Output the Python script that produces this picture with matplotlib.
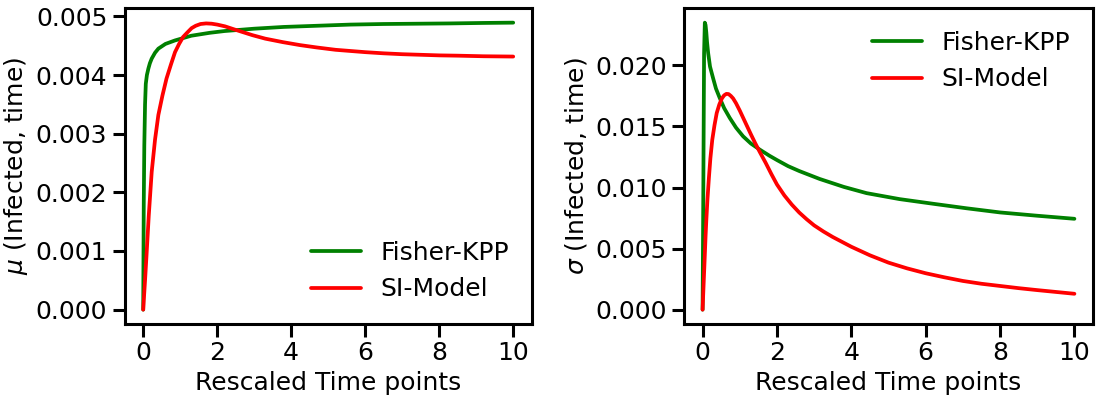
import numpy as np
import matplotlib
matplotlib.use("Agg")
import matplotlib.pyplot as plt
import seaborn as sns

# values (units of 1e-3 on y)
t_mu_kpp = [0, 0.015, 0.03, 0.05, 0.07, 0.1, 0.14, 0.18, 0.23, 0.32, 0.41, 0.6, 0.86,
            1.3, 1.8, 2.2, 3.0, 3.8, 4.7, 5.6, 6.5, 7.4, 8.3, 9.2, 10]
mu_kpp = [0, 1.8, 2.8, 3.5, 3.85, 4.0, 4.11, 4.2, 4.28, 4.38, 4.45, 4.53, 4.59,
          4.67, 4.72, 4.75, 4.79, 4.82, 4.84, 4.86, 4.87, 4.875, 4.88, 4.888, 4.893]

t_mu_si = [0, 0.05, 0.09, 0.15, 0.23, 0.32, 0.41, 0.52, 0.63, 0.75, 0.86, 0.97,
           1.08, 1.2, 1.31, 1.42, 1.55, 1.7, 1.85, 2.0, 2.21, 2.45, 2.7, 2.95,
           3.3, 3.78, 4.24, 4.69, 5.2, 5.6, 6.0, 6.5, 7.0, 7.5, 8.0, 8.5, 9.2, 10]
mu_si = [0, 0.5, 0.93, 1.6, 2.35, 2.9, 3.32, 3.65, 3.94, 4.18, 4.39, 4.53,
         4.65, 4.73, 4.80, 4.84, 4.87, 4.88, 4.875, 4.86, 4.83, 4.78, 4.73, 4.68,
         4.62, 4.56, 4.51, 4.47, 4.43, 4.41, 4.39, 4.37, 4.355, 4.345, 4.335, 4.33, 4.32, 4.315]

t_sd_kpp = [0, 0.02, 0.04, 0.06, 0.08, 0.1, 0.12, 0.15, 0.2, 0.28, 0.36, 0.46, 0.58,
            0.73, 0.9, 1.09, 1.3, 1.54, 1.8, 2.0, 2.3, 2.6, 3.15, 3.8, 4.41, 5.3,
            6.2, 7.1, 8.0, 9.0, 10]
sd_kpp = [0, 10, 21, 23.5, 23.3, 22.7, 21.9, 21.0, 19.9, 18.98, 18.1, 17.34, 16.5,
          15.7, 14.9, 14.19, 13.6, 13.1, 12.6, 12.25, 11.75, 11.35, 10.7, 10.05, 9.54, 9.05,
          8.67, 8.3, 7.96, 7.69, 7.44]

t_sd_si = [0, 0.02, 0.04, 0.06, 0.08, 0.1, 0.13, 0.17, 0.21, 0.26, 0.32, 0.38,
           0.45, 0.52, 0.58, 0.64, 0.7, 0.76, 0.82, 0.9, 1.0, 1.1, 1.2, 1.3,
           1.42, 1.54, 1.7, 1.85, 2.0, 2.2, 2.4, 2.6, 2.8, 3.0, 3.25, 3.5,
           3.75, 4.0, 4.5, 5.0, 5.5, 6.0, 6.5, 7.0, 7.5, 8.0, 8.5, 9.0, 9.5, 10]
sd_si = [0, 1.5, 3.0, 4.48, 6.0, 7.3, 9.0, 10.8, 12.4, 13.9, 15.1, 16.1,
         16.8, 17.3, 17.55, 17.67, 17.65, 17.5, 17.3, 16.9, 16.3, 15.65, 15.0, 14.35,
         13.6, 12.9, 12.0, 11.1, 10.25, 9.35, 8.6, 7.95, 7.4, 6.9, 6.4, 5.95,
         5.55, 5.15, 4.45, 3.85, 3.38, 2.98, 2.65, 2.35, 2.12, 1.94, 1.76, 1.6, 1.45, 1.3]

labels = ["Fisher-KPP", "SI-Model"]

sns.set_theme(context="talk", style="ticks")
plt.rcParams["font.family"] = ["DejaVu Sans"]
plt.rcParams.update({
    "axes.edgecolor": "black", "axes.labelcolor": "black", "text.color": "black",
    "xtick.color": "black", "ytick.color": "black",
    "axes.linewidth": 2.2, "xtick.major.width": 2.2, "ytick.major.width": 2.2,
    "xtick.major.size": 9, "ytick.major.size": 9,
    "xtick.labelsize": 18, "ytick.labelsize": 18,
    "axes.labelsize": 18, "legend.fontsize": 18,
    "lines.linewidth": 2.7,
})

fig = plt.figure(figsize=(10.96, 3.96), dpi=100)
ax1 = fig.add_axes([124.7 / 1096, 72 / 396, 407 / 1096, 315.7 / 396])
ax2 = fig.add_axes([684 / 1096, 72 / 396, 409 / 1096, 315.7 / 396])

ax1.plot(t_mu_kpp, np.array(mu_kpp) * 1e-3, color="green", label=labels[0])
ax1.plot(t_mu_si, np.array(mu_si) * 1e-3, color="red", label=labels[1])
ax1.set_xlabel("Rescaled Time points")
ax1.set_ylabel(r"$\mu$ (Infected, time)")
ax1.set_yticks([0, 0.001, 0.002, 0.003, 0.004, 0.005])
ax1.set_xticks([0, 2, 4, 6, 8, 10])
ax1.legend(loc="lower right", frameon=False)

ax2.plot(t_sd_kpp, np.array(sd_kpp) * 1e-3, color="green", label=labels[0])
ax2.plot(t_sd_si, np.array(sd_si) * 1e-3, color="red", label=labels[1])
ax2.set_xlabel("Rescaled Time points")
ax2.set_ylabel(r"$\sigma$ (Infected, time)")
ax2.set_yticks([0, 0.005, 0.010, 0.015, 0.020])
ax2.set_xticks([0, 2, 4, 6, 8, 10])
ax2.legend(loc="upper right", frameon=False)

for ax in (ax1, ax2):
    ax.yaxis.set_major_formatter(matplotlib.ticker.FormatStrFormatter("%.3f"))

fig.savefig("out.png", dpi=100)
